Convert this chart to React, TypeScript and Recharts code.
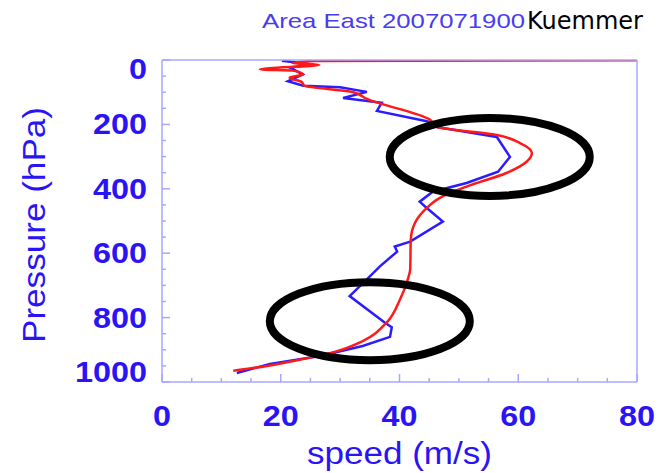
import { Label, Line, LineChart, ReferenceDot, XAxis, YAxis } from 'recharts'

// wind speed profiles, speed in m/s vs pressure in hPa (top of profile first)
const blueSpeed = [20.2, 25.4, 21.5, 23.7, 21.2, 23.8, 30, 34.5, 30.5, 37, 36.2, 44.6, 45.5, 46.3, 56.4, 58.6, 56.6, 51.3, 45.6, 43.4, 44.3, 47.3, 41.8, 39.2, 39.6, 36.7, 34.5, 31.6, 37.5, 38.7, 38.4, 33.8, 26.6, 18.2, 12.6]
const bluePressure = [2, 14, 23, 45, 66, 80, 85, 99, 118, 133, 158, 190, 197, 208, 239, 301, 347, 382, 409, 440, 455, 502, 564, 579, 595, 641, 681, 733, 815, 830, 860, 888, 919, 944, 972]

const redSpeed = [80, 25.5, 22, 26.5, 16.5, 22, 23.8, 21.5, 23.5, 24, 32.2, 34.5, 45.1, 46.3, 56.4, 60.3, 62.3, 61.4, 58, 51.3, 46.8, 44.3, 42.6, 41.9, 41.8, 41.4, 40.1, 37.9, 33.8, 29.5, 23.7, 17.7, 12]
const redPressure = [1, 3, 10, 15, 29, 33, 45, 55, 68, 80, 100, 121, 185, 208, 233, 258, 289, 316, 351, 393, 428, 465, 506, 558, 650, 681, 743, 814, 873, 904, 929, 950, 965]

const speedTicks = [0, 5, 10, 15, 20, 25, 30, 35, 40, 45, 50, 55, 60, 65, 70, 75, 80]
const pressureTicks = [0, 50, 100, 150, 200, 250, 300, 350, 400, 450, 500, 550, 600, 650, 700, 750, 800, 850, 900, 950, 1000]

// circled regions: [speed, pressure]
const highlights = [
  [55.2, 301],
  [35, 811],
]

const blue = blueSpeed.map((s, i) => ({ speed: s, p: bluePressure[i] }))
const red = redSpeed.map((s, i) => ({ speed: s, p: redPressure[i] }))

const AXIS = '#aaa6ff'
const INK = '#2a14f5'
const FONT = '"Liberation Sans", Arial, sans-serif'

function BottomTick({ x, y, payload }: any) {
  const major = payload.value % 20 === 0
  const label = String(payload.value)
  return (
    <g>
      <line x1={x} x2={x} y1={y} y2={y - (major ? 8 : 4)} stroke={AXIS} strokeWidth={1.5} />
      {major && (
        <text x={x} y={y + 44} textAnchor="middle" fill={INK} fontFamily={FONT} fontWeight="bold" fontSize={29}
          textLength={label.length * 18} lengthAdjust="spacingAndGlyphs">{label}</text>
      )}
    </g>
  )
}

function TopTick({ x, y, payload }: any) {
  const major = payload.value % 20 === 0
  return <line x1={x} x2={x} y1={y} y2={y + (major ? 8 : 4)} stroke={AXIS} strokeWidth={1.5} />
}

function LeftTick({ x, y, payload }: any) {
  const major = payload.value % 200 === 0
  const label = String(payload.value)
  // end labels are kept inside the axis span
  const shift = payload.value === 0 ? 9 : payload.value === 1000 ? -10 : 0
  return (
    <g>
      <line x1={x} x2={x + (major ? 8 : 4)} y1={y} y2={y} stroke={AXIS} strokeWidth={1.5} />
      {major && (
        <text x={x - 15} y={y + shift + 10} textAnchor="end" fill={INK} fontFamily={FONT} fontWeight="bold" fontSize={29}
          textLength={label.length * 18} lengthAdjust="spacingAndGlyphs">{label}</text>
      )}
    </g>
  )
}

function RightTick({ x, y, payload }: any) {
  const major = payload.value % 200 === 0
  return <line x1={x} x2={x - (major ? 8 : 4)} y1={y} y2={y} stroke={AXIS} strokeWidth={1.5} />
}

function Ring(props: any) {
  return <ellipse cx={props.cx} cy={props.cy} rx={100} ry={39} fill="none" stroke="#000" strokeWidth={8} />
}

export default function App() {
  return (
    <div style={{ position: 'absolute', left: 0, top: 0, width: 658, height: 473, background: '#fff' }}>
      <LineChart width={658} height={473} layout="vertical" margin={{ top: 59, right: 20, bottom: 0, left: 0 }}>
        <XAxis type="number" dataKey="speed" domain={[0, 80]} ticks={speedTicks} interval={0} allowDataOverflow
          height={91} tickSize={0} tickMargin={0} tick={<BottomTick />} axisLine={{ stroke: AXIS, strokeWidth: 1.5 }}>
          <Label content={({ viewBox }: any) => (
            <text x={viewBox.x + viewBox.width / 2} y={464} textAnchor="middle" fill={INK} fontFamily={FONT} fontSize={31}
              textLength={185} lengthAdjust="spacingAndGlyphs">speed (m/s)</text>
          )} />
        </XAxis>
        <XAxis xAxisId="top" orientation="top" type="number" domain={[0, 80]} ticks={speedTicks} interval={0}
          height={1} tickSize={0} tickMargin={0} tick={<TopTick />} axisLine={{ stroke: AXIS, strokeWidth: 1.5 }} />
        <YAxis type="number" dataKey="p" domain={[0, 1000]} ticks={pressureTicks} interval={0} allowDataOverflow
          width={162} tickSize={0} tickMargin={0} tick={<LeftTick />} axisLine={{ stroke: AXIS, strokeWidth: 1.5 }}>
          <Label content={({ viewBox }: any) => {
            const cy = viewBox.y + viewBox.height / 2 + 4
            return (
              <text x={45} y={cy} transform={`rotate(-90 45 ${cy})`} textAnchor="middle" fill={INK} fontFamily={FONT}
                fontSize={31} textLength={236} lengthAdjust="spacingAndGlyphs">Pressure (hPa)</text>
            )
          }} />
        </YAxis>
        <YAxis yAxisId="right" orientation="right" type="number" dataKey="p" domain={[0, 1000]} ticks={pressureTicks}
          interval={0} width={1} tickSize={0} tickMargin={0} tick={<RightTick />} axisLine={{ stroke: AXIS, strokeWidth: 1.5 }} />
        <Line data={blue} dataKey="speed" type="linear" stroke="#2b1cff" strokeWidth={2.5} dot={false} isAnimationActive={false} />
        <Line data={red} dataKey="speed" type="monotone" stroke="#ff1a1a" strokeWidth={2.5} dot={false} isAnimationActive={false} />
        {highlights.map(([s, p], i) => (
          <ReferenceDot key={i} x={s} y={p} shape={<Ring />} ifOverflow="visible" />
        ))}
      </LineChart>
      <svg width={658} height={473} style={{ position: 'absolute', left: 0, top: 0, pointerEvents: 'none' }}>
        <text x={262} y={28} fill="#4a3cf0" fontFamily={FONT} fontSize={21} textLength={263} lengthAdjust="spacingAndGlyphs">
          Area East 2007071900
        </text>
        <text x={527} y={29} fill="#000" fontFamily='"DejaVu Sans", sans-serif' fontSize={24}>Kuemmer</text>
      </svg>
    </div>
  )
}
